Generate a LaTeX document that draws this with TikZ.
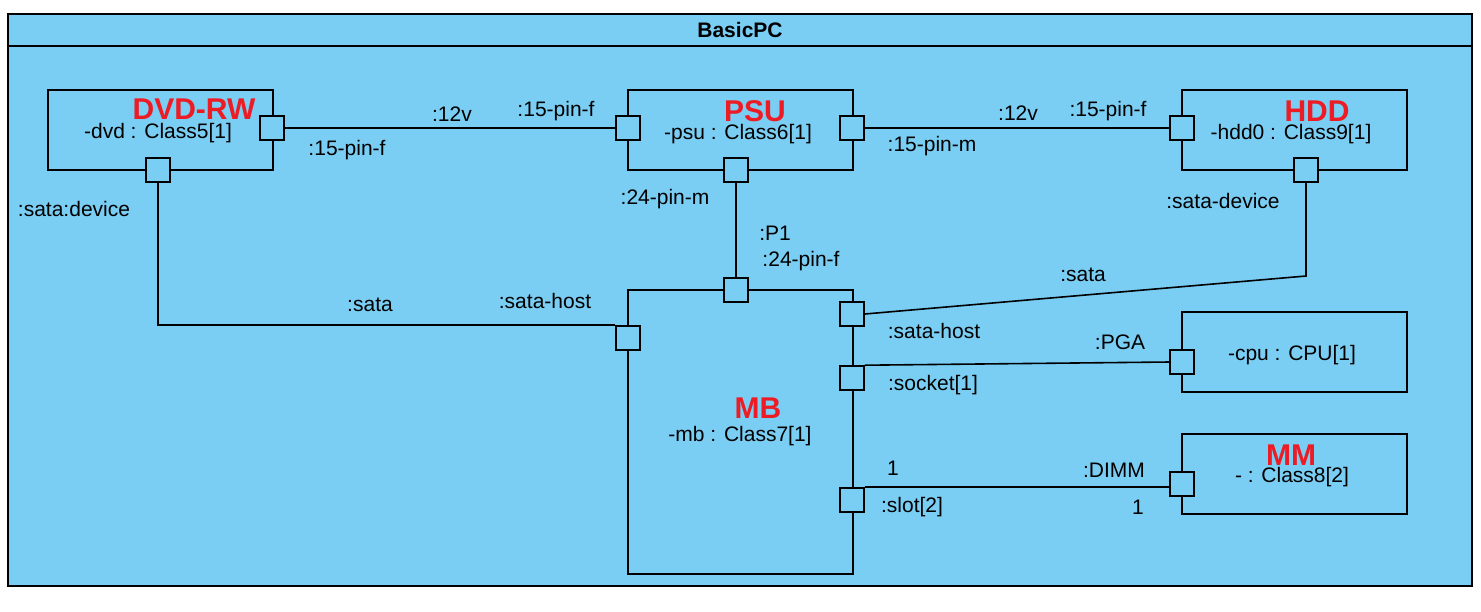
\documentclass[tikz,border=0pt]{standalone}
\usepackage{fontspec}
\setmainfont{Liberation Sans}
\usepackage{tikz}
\definecolor{pcblue}{RGB}{122,206,244}
\definecolor{partred}{RGB}{237,28,36}

\begin{document}
\begin{tikzpicture}[x=0.5pt, y=-0.5pt, line width=0.8pt,
  part/.style={draw, fill=pcblue, minimum width=112.5pt, minimum height=40pt, inner sep=0pt},
  port/.style={draw, fill=pcblue, minimum size=12pt, inner sep=0pt},
  partname/.style={text=partred, inner sep=0pt, font=\fontsize{15}{18}\selectfont\bfseries},
  lbl/.style={inner sep=0pt, font=\fontsize{10.5}{12}\selectfont}]

\useasboundingbox (0,0) rectangle (1481,611);

% Rahmen

\draw[fill=pcblue] (8,14) rectangle (1472,586);

\draw (8,46) -- (1472,46);

\node[lbl, font=\fontsize{10.5}{12}\selectfont\bfseries] (title) at (740,30) {BasicPC};

% Teile

\node[part] (dvd) at (160.5,130) {};
\node[part] (psu) at (740.5,130) {};
\node[part] (hdd) at (1294.5,130) {};
\node[part, minimum height=142pt] (mb) at (740.5,432) {};
\node[part] (cpu) at (1294.5,352) {};
\node[part] (mm) at (1294.5,474) {};

\node[partname] (dvdname) at (194,109) {DVD-RW};
\node[lbl] (dvdtype) at (158,133) {-dvd : Class5[1]};
\node[partname] (psuname) at (755,111) {PSU};
\node[lbl] (psutype) at (738,134) {-psu : Class6[1]};
\node[partname] (hddname) at (1317,111) {HDD};
\node[lbl] (hddtype) at (1291,134) {-hdd0 : Class9[1]};
\node[partname] (mbname) at (758,408) {MB};
\node[lbl] (mbtype) at (740,436) {-mb : Class7[1]};
\node[lbl] (cputype) at (1292,355) {-cpu : CPU[1]};
\node[partname] (mmname) at (1291,455) {MM};
\node[lbl] (mmtype) at (1292,477) {- : Class8[2]};

% Ports

\node[port] (dvdR) at (272,128) {};
\node[port] (dvdB) at (158,170) {};
\node[port] (psuL) at (628,128) {};
\node[port] (psuR) at (852,128) {};
\node[port] (psuB) at (736,170) {};
\node[port] (hddL) at (1182,128) {};
\node[port] (hddB) at (1306,170) {};
\node[port] (mbT) at (736,290) {};
\node[port] (mbL) at (628,338) {};
\node[port] (mbSH) at (852,314) {};
\node[port] (mbS) at (852,378) {};
\node[port] (mbSl) at (852,500) {};
\node[port] (cpuL) at (1182,362) {};
\node[port] (mmL) at (1182,484) {};

% Verbindungen

\coordinate (hddbend) at (1306,276);

\draw (dvdR) -- (psuL);

\draw (psuR) -- (hddL);

\draw (psuB) -- (mbT);

\draw (dvdB) |- (mbL.north west);

\draw (hddB) -- (hddbend) -- (mbSH.east);

\draw (mbS.north east) -- (cpuL.west);

\draw (mbSl.north east) -- (mbSl.north east -| mmL.west);

% Beschriftungen

\node[lbl] at (452,114) {:12v};
\node[lbl] at (556,111) {:15-pin-f};
\node[lbl] at (347,150) {:15-pin-f};
\node[lbl] at (1018,113) {:12v};
\node[lbl] at (1108,111) {:15-pin-f};
\node[lbl] at (932,146) {:15-pin-m};
\node[lbl] at (665,199) {:24-pin-m};
\node[lbl] at (775,233) {:P1};
\node[lbl] at (801,261) {:24-pin-f};
\node[lbl] at (74,209) {:sata:device};
\node[lbl] at (370,305) {:sata};
\node[lbl] at (545,301) {:sata-host};
\node[lbl] at (1223,201) {:sata-device};
\node[lbl] at (1083,275) {:sata};
\node[lbl] at (934,331) {:sata-host};
\node[lbl] at (1120,342) {:PGA};
\node[lbl] at (933,385) {:socket[1]};
\node[lbl] at (893,468) {1};
\node[lbl] at (1114,470) {:DIMM};
\node[lbl] at (912,507) {:slot[2]};
\node[lbl] at (1138,507) {1};

\end{tikzpicture}
\end{document}
